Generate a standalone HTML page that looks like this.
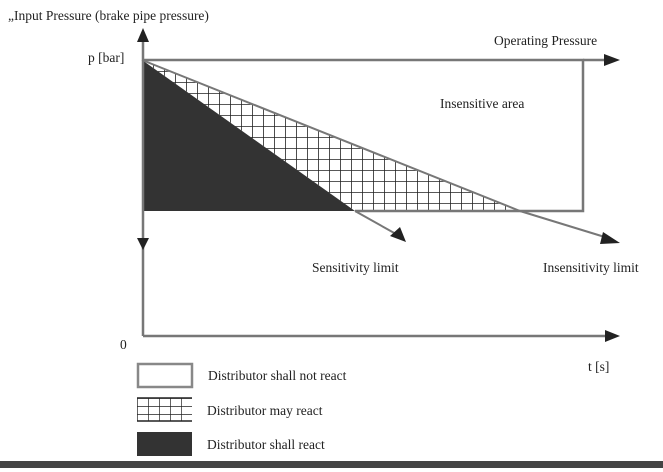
<!DOCTYPE html>
<html><head><meta charset="utf-8"><style>
html,body{margin:0;padding:0;background:#fff;}
svg{display:block;}
text{font-family:"Liberation Serif",serif;font-size:13.5px;fill:#222;}
</style></head><body>
<svg width="663" height="472" viewBox="0 0 663 472" xmlns="http://www.w3.org/2000/svg">
<defs>
<pattern id="grid" x="142" y="60" width="11" height="11" patternUnits="userSpaceOnUse">
<rect width="11" height="11" fill="#fff"/>
<path d="M0 0V11M0 0H11" stroke="#222" stroke-width="1.6" fill="none"/>
</pattern>
<pattern id="grid2" x="137" y="398" width="11" height="8" patternUnits="userSpaceOnUse">
<rect width="11" height="8" fill="#fff"/>
<path d="M0 0V8M0 0H11" stroke="#222" stroke-width="1.4" fill="none"/>
</pattern>
</defs>
<text x="8" y="20">„Input Pressure (brake pipe pressure)</text>
<text x="88" y="62">p [bar]</text>
<text x="494" y="45">Operating Pressure</text>
<text x="440" y="108">Insensitive area</text>
<text x="312" y="272">Sensitivity limit</text>
<text x="543" y="272">Insensitivity limit</text>
<text x="120" y="349">0</text>
<text x="588" y="371">t [s]</text>
<polygon points="142,60 520,211 355,211" fill="url(#grid)"/>
<polygon points="142,60 142,211 355,211" fill="#333"/>
<path d="M142 60H583V211H355" stroke="#777" stroke-width="2.5" fill="none"/>
<line x1="583" y1="60" x2="606" y2="60" stroke="#777" stroke-width="2.5"/>
<polygon points="604,54 620,60 604,66" fill="#222"/>
<path d="M142 60L520 211L608 238" stroke="#777" stroke-width="2" fill="none"/>
<polygon points="603,232 620,243 600,244" fill="#222"/>
<line x1="355" y1="211" x2="396" y2="234" stroke="#777" stroke-width="2"/>
<polygon points="390,236 400,227 406,242" fill="#222"/>
<line x1="143" y1="36" x2="143" y2="336" stroke="#777" stroke-width="2.5"/>
<polygon points="137,42 143,28 149,42" fill="#222"/>
<polygon points="137,238 143,250 149,238" fill="#222"/>
<line x1="143" y1="336" x2="608" y2="336" stroke="#777" stroke-width="2.5"/>
<polygon points="605,330 620,336 605,342" fill="#222"/>
<rect x="138" y="364" width="54" height="23" fill="#fff" stroke="#888" stroke-width="2.5"/>
<text x="208" y="375" dy="5">Distributor shall not react</text>
<rect x="137" y="398" width="55" height="23" fill="url(#grid2)"/>
<line x1="137" y1="398" x2="192" y2="398" stroke="#222" stroke-width="1.5"/>
<line x1="137" y1="421" x2="192" y2="421" stroke="#222" stroke-width="1.5"/>
<text x="207" y="410" dy="5">Distributor may react</text>
<rect x="137" y="432" width="55" height="24" fill="#333"/>
<text x="207" y="444" dy="5">Distributor shall react</text>
<rect x="0" y="461" width="663" height="7" fill="#444"/>
</svg>
</body></html>
